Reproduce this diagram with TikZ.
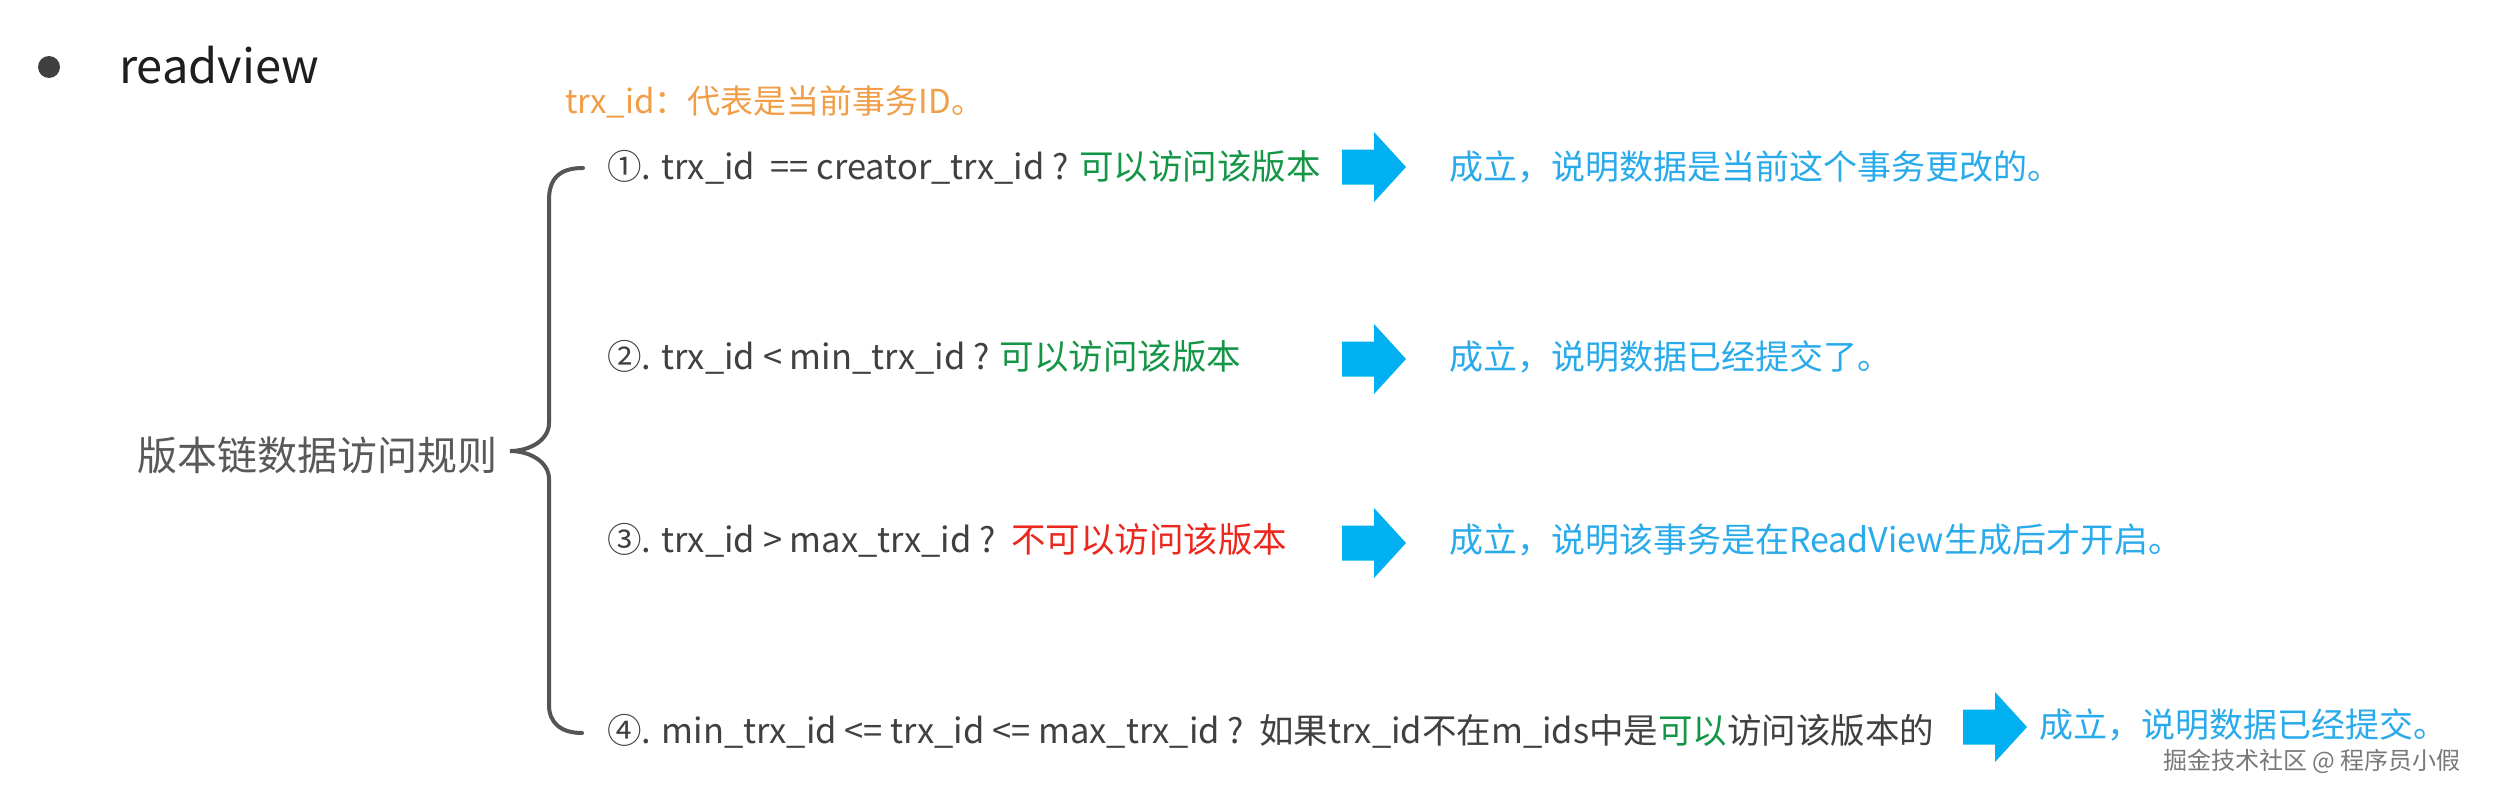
\documentclass[tikz,border=0pt]{standalone}
\usepackage{fontspec}
\setmainfont{Noto Sans CJK SC}

\definecolor{rulegray}{RGB}{64,64,64}
\definecolor{bracegray}{RGB}{85,85,85}
\definecolor{labelgray}{RGB}{89,89,89}
\definecolor{noteorange}{RGB}{240,158,72}
\definecolor{okgreen}{RGB}{20,150,70}
\definecolor{nored}{RGB}{235,40,30}
\definecolor{resultblue}{RGB}{40,170,235}
\definecolor{arrowblue}{RGB}{0,176,240}

\tikzset{
  ruletext/.style={anchor=west, inner sep=0pt, text=rulegray, font=\fontsize{34.5}{40}\selectfont},
  resulttext/.style={anchor=west, inner sep=0pt, text=resultblue, font=\fontsize{34}{40}\selectfont},
  blockarrow/.style={fill=arrowblue},
}

\begin{document}
\begin{tikzpicture}[x=1pt, y=-1pt]
		% Page
		\fill[white] (0,0) rectangle (2496,789);
		\useasboundingbox (0,0) rectangle (2496,789);
		
		% Title
		\fill[rulegray] (49,67) circle (11);
		\node[anchor=west, inner sep=0pt, text={rgb,255:red,30;green,30;blue,30}, font=\fontsize{47}{52}\selectfont] (title) at (119,65) {readview};
		\node[anchor=west, inner sep=0pt, text=noteorange, font=\fontsize{33}{38}\selectfont] (note) at (565,102) {trx\_id：代表是当前事务ID。};
		
		% Brace
		\node[anchor=west, inner sep=0pt, text=labelgray, font=\fontsize{40}{46}\selectfont] (label) at (137,455) {版本链数据访问规则};
		\draw[bracegray, line width=4, line cap=round]
			(583,168) .. controls (560,168) and (549,178) .. (549,200)
			-- (549,423) .. controls (549,440) and (530,451) .. (510,451)
			.. controls (530,451) and (549,462) .. (549,479)
			-- (549,705) .. controls (549,722) and (560,733) .. (582,733);
		
		% Rules
		\node[ruletext] (rule1) at (607,167) {①. trx\_id~~== creator\_trx\_id ? \textcolor{okgreen}{可以访问该版本}};
		\node[ruletext] (rule2) at (607,357) {②. trx\_id < min\_trx\_id ? \textcolor{okgreen}{可以访问该版本}};
		\node[ruletext] (rule3) at (607,540) {③. trx\_id > max\_trx\_id ?~~\textcolor{nored}{不可以访问该版本}};
		\node[ruletext] (rule4) at (607,731) {④. min\_trx\_id <= trx\_id <= max\_trx\_id ?~~如果trx\_id不在m\_ids中是\textcolor{okgreen}{可以}访问该版本的};
		
		% Arrows
		\fill[blockarrow] (1342,149.5) -- ++(32,0) -- ++(0,-17.5) -- ++(32,35) -- ++(-32,35) -- ++(0,-17.5) -- ++(-32,0) -- cycle;
		\fill[blockarrow] (1342,341.5) -- ++(32,0) -- ++(0,-17.5) -- ++(32,35) -- ++(-32,35) -- ++(0,-17.5) -- ++(-32,0) -- cycle;
		\fill[blockarrow] (1342,525.5) -- ++(32,0) -- ++(0,-17.5) -- ++(32,35) -- ++(-32,35) -- ++(0,-17.5) -- ++(-32,0) -- cycle;
		\fill[blockarrow] (1963,709.5) -- ++(32,0) -- ++(0,-17.5) -- ++(32,35) -- ++(-32,35) -- ++(0,-17.5) -- ++(-32,0) -- cycle;
		
		% Results
		\node[resulttext] (result1) at (1449,167) {成立，说明数据是当前这个事务更改的。};
		\node[resulttext] (result2) at (1449,357) {成立，说明数据已经提交了。};
		\node[resulttext] (result3) at (1449,540) {成立，说明该事务是在ReadView生成后才开启。};
		\node[resulttext] (result4) at (2039,725) {成立，说明数据已经提交。};
		
		% Watermark
		\node[anchor=west, inner sep=0pt, text={rgb,255:red,120;green,120;blue,120}, font=\fontsize{24}{28}\selectfont] (mark) at (2163,761) {掘金技术社区 @ 程序员小假};
	\end{tikzpicture}
\end{document}
